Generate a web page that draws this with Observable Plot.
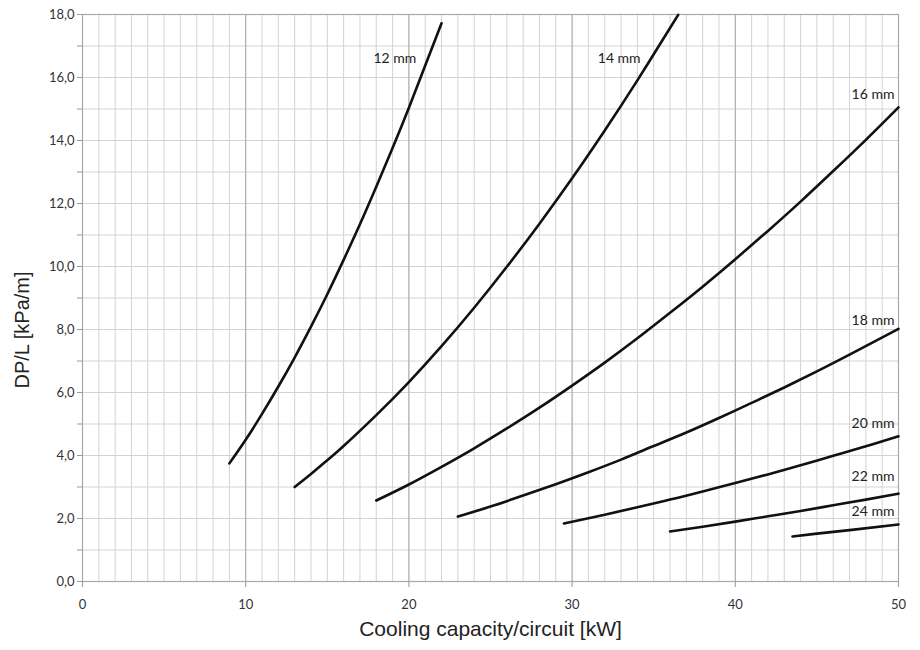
<!DOCTYPE html>
<html>
<head>
<meta charset="utf-8">
<script src="https://cdn.jsdelivr.net/npm/d3@7"></script>
<script src="https://cdn.jsdelivr.net/npm/@observablehq/plot@0.6"></script>
<style>
  html, body { margin: 0; padding: 0; background: #fff; }
  #chart { width: 920px; height: 650px; }
</style>
</head>
<body>
<div id="chart"></div>
<script>
// ---- data ----
const xTicks = [0, 10, 20, 30, 40, 50];
const yTicks = [0, 2, 4, 6, 8, 10, 12, 14, 16, 18];
const xMinor = d3.range(0, 51, 1);
const yMinor = d3.range(0, 19, 1);
const xMajorGrid = [10, 20, 30, 40];

const s12x = [9, 10, 11, 12, 13, 14, 15, 16, 17, 18, 19, 20, 21, 22];
const s12y = [3.75, 4.50, 5.32, 6.19, 7.11, 8.09, 9.12, 10.21, 11.34, 12.53, 13.76, 15.04, 16.38, 17.72];

const s14x = [13, 14, 15, 16, 18, 20, 22, 24, 26, 28, 30, 32, 34, 36, 36.5];
const s14y = [3.0, 3.41, 3.85, 4.30, 5.28, 6.33, 7.47, 8.69, 9.99, 11.36, 12.80, 14.32, 15.91, 17.57, 17.99];

const s16x = [18, 20, 22, 24, 26, 28, 30, 32, 34, 36, 38, 40, 42, 44, 46, 48, 50];
const s16y = [2.57, 3.08, 3.64, 4.23, 4.86, 5.52, 6.22, 6.95, 7.72, 8.53, 9.36, 10.23, 11.13, 12.06, 13.03, 14.02, 15.05];

const s18x = [23, 25, 27, 29, 31, 33, 35, 37, 39, 41, 43, 45, 47, 50];
const s18y = [2.06, 2.38, 2.73, 3.09, 3.47, 3.87, 4.30, 4.73, 5.19, 5.67, 6.16, 6.67, 7.20, 8.02];

const s20x = [29.5, 32, 34, 36, 38, 40, 42, 44, 46, 48, 50];
const s20y = [1.84, 2.12, 2.36, 2.60, 2.86, 3.13, 3.40, 3.69, 3.99, 4.29, 4.61];

const s22x = [36, 38, 40, 42, 44, 46, 48, 50];
const s22y = [1.59, 1.74, 1.90, 2.07, 2.24, 2.42, 2.60, 2.79];

const s24x = [43.5, 45, 47, 50];
const s24y = [1.43, 1.52, 1.63, 1.81];

const seriesNames = ["12 mm", "14 mm", "16 mm", "18 mm", "20 mm", "22 mm", "24 mm"];
const labelX = [20.45, 34.2, 49.75, 49.75, 49.75, 49.75, 49.75];
const labelY = [16.6, 16.6, 15.45, 8.28, 5.01, 3.32, 2.22];

const xTitle = "Cooling capacity/circuit [kW]";
const yTitle = "DP/L [kPa/m]";

// ---- build table ----
const allX = [s12x, s14x, s16x, s18x, s20x, s22x, s24x];
const allY = [s12y, s14y, s16y, s18y, s20y, s22y, s24y];
const rows = [];
seriesNames.forEach((name, i) => {
  allX[i].forEach((x, j) => rows.push({series: name, x, y: allY[i][j]}));
});
const labels = seriesNames.map((name, i) => ({name, x: labelX[i], y: labelY[i]}));

const fmt = d => d.toFixed(1).replace(".", ",");

const chart = Plot.plot({
  width: 920,
  height: 650,
  marginLeft: 82,
  marginRight: 22,
  marginTop: 14,
  marginBottom: 69,
  style: {fontFamily: "Lato, 'Open Sans', sans-serif", background: "#fff"},
  x: {domain: [0, 50]},
  y: {domain: [0, 18]},
  marks: [
    Plot.ruleX(xMinor, {stroke: "#d3d3d3", strokeWidth: 1}),
    Plot.ruleY(yMinor, {stroke: "#d3d3d3", strokeWidth: 1}),
    Plot.ruleX(xMajorGrid, {stroke: "#ababab", strokeWidth: 1}),
    Plot.frame({stroke: "#a8a8a8", strokeWidth: 1.2}),
    Plot.axisY(yMinor, {
      tickSize: 5, stroke: "#999", fontSize: 13, color: "#333",
      tickFormat: d => (d % 2 === 0 ? fmt(d) : ""), tickPadding: 3, label: null
    }),
    Plot.axisX(xTicks, {
      tickSize: 6, stroke: "#999", fontSize: 13, color: "#333",
      tickFormat: d => String(d), tickPadding: 12, label: null
    }),
    Plot.line(rows, {x: "x", y: "y", z: "series", stroke: "#111", strokeWidth: 2.6, curve: "natural"}),
    Plot.text(labels, {x: "x", y: "y", text: "name", textAnchor: "end", fontSize: 14, fill: "#222"}),
    Plot.text([xTitle], {frameAnchor: "bottom", textAnchor: "middle", dy: 54, fontSize: 21, fill: "#222",
      fontFamily: "'Liberation Sans', Arial, sans-serif"}),
    Plot.text([yTitle], {frameAnchor: "left", textAnchor: "middle", dx: -60, dy: 32, rotate: -90, fontSize: 20, fill: "#222",
      fontFamily: "'Liberation Sans', Arial, sans-serif"})
  ]
});
document.getElementById("chart").appendChild(chart);
</script>
</body>
</html>
